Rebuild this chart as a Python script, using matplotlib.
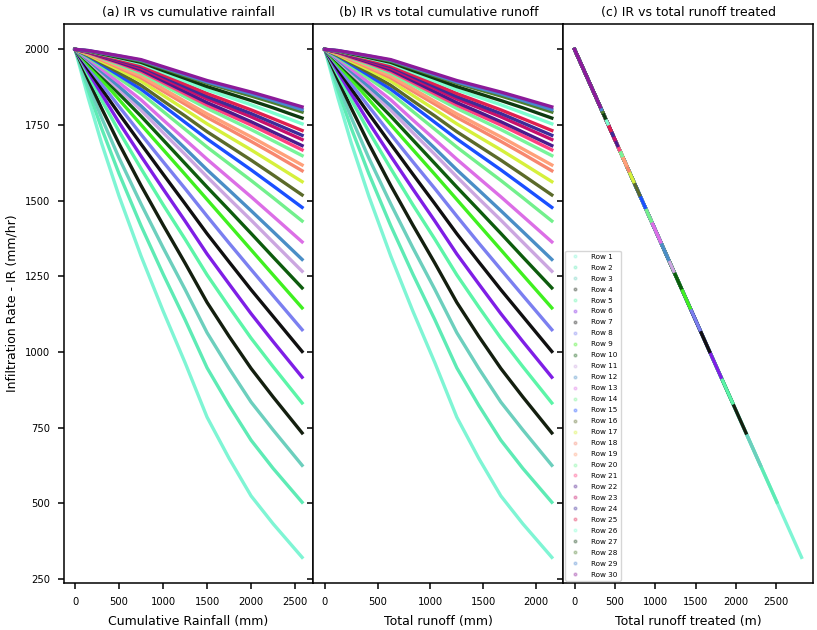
import matplotlib
matplotlib.use("Agg")
import matplotlib.pyplot as plt
from matplotlib.lines import Line2D

# cumulative rainfall (mm) and total runoff (mm) at the sampled points
rain_mm = [0, 150, 300, 500, 750, 1000, 1250, 1500, 1750, 2000, 2250, 2580]
runoff_mm = [0, 125, 250, 417, 625, 833, 1042, 1250, 1458, 1667, 1875, 2150]

# infiltration rate (mm/hr) of each row at those points
ir_rows = [
    [2000, 1839, 1691, 1515, 1317, 1136, 965, 785, 649, 525, 433, 322],
    [2000, 1865, 1740, 1589, 1417, 1258, 1107, 948, 824, 709, 616, 504],
    [2000, 1883, 1775, 1641, 1489, 1345, 1207, 1064, 946, 835, 743, 626],
    [2000, 1900, 1806, 1688, 1550, 1420, 1294, 1164, 1052, 946, 852, 733],
    [2000, 1915, 1833, 1729, 1606, 1487, 1373, 1255, 1149, 1046, 952, 832],
    [2000, 1925, 1853, 1758, 1647, 1539, 1433, 1324, 1225, 1127, 1035, 917],
    [2000, 1934, 1870, 1787, 1687, 1588, 1490, 1391, 1298, 1206, 1118, 1002],
    [2000, 1943, 1886, 1811, 1719, 1629, 1540, 1449, 1360, 1273, 1187, 1074],
    [2000, 1950, 1901, 1834, 1751, 1669, 1587, 1504, 1421, 1338, 1255, 1146],
    [2000, 1957, 1913, 1853, 1779, 1701, 1623, 1545, 1469, 1392, 1314, 1212],
    [2000, 1962, 1921, 1867, 1799, 1725, 1653, 1579, 1507, 1436, 1363, 1267],
    [2000, 1965, 1927, 1877, 1813, 1743, 1673, 1602, 1535, 1467, 1398, 1306],
    [2000, 1969, 1935, 1890, 1833, 1767, 1702, 1637, 1575, 1513, 1449, 1364],
    [2000, 1973, 1944, 1904, 1854, 1795, 1736, 1677, 1622, 1567, 1510, 1433],
    [2000, 1977, 1950, 1914, 1868, 1814, 1759, 1704, 1653, 1602, 1549, 1478],
    [2000, 1979, 1955, 1923, 1881, 1830, 1780, 1728, 1681, 1634, 1585, 1519],
    [2000, 1982, 1960, 1932, 1895, 1848, 1801, 1754, 1711, 1668, 1623, 1563],
    [2000, 1984, 1965, 1939, 1906, 1862, 1819, 1775, 1736, 1696, 1655, 1599],
    [2000, 1986, 1968, 1943, 1912, 1870, 1828, 1787, 1749, 1711, 1671, 1618],
    [2000, 1988, 1971, 1949, 1921, 1882, 1843, 1805, 1770, 1735, 1698, 1649],
    [2000, 1989, 1973, 1954, 1927, 1890, 1853, 1816, 1783, 1750, 1715, 1668],
    [2000, 1990, 1976, 1957, 1932, 1896, 1860, 1824, 1793, 1761, 1727, 1682],
    [2000, 1991, 1978, 1961, 1938, 1904, 1870, 1836, 1807, 1777, 1745, 1702],
    [2000, 1992, 1980, 1964, 1943, 1910, 1877, 1844, 1816, 1788, 1757, 1716],
    [2000, 1993, 1982, 1967, 1947, 1916, 1885, 1854, 1827, 1800, 1771, 1732],
    [2000, 1994, 1984, 1971, 1953, 1924, 1895, 1866, 1842, 1817, 1790, 1754],
    [2000, 1995, 1985, 1973, 1957, 1930, 1904, 1877, 1854, 1831, 1807, 1773],
    [2000, 1995, 1987, 1976, 1961, 1937, 1912, 1888, 1867, 1846, 1824, 1793],
    [2000, 1996, 1988, 1978, 1964, 1940, 1916, 1892, 1872, 1853, 1831, 1801],
    [2000, 1996, 1989, 1979, 1966, 1943, 1920, 1897, 1878, 1859, 1838, 1810],
]

# total runoff treated (m) by each row at the end of the record
treated_end = [2815, 2510, 2305, 2126, 1960, 1817, 1674, 1554, 1433, 1322,
               1230, 1164, 1067, 951, 876, 807, 733, 673, 641, 589,
               557, 534, 500, 477, 450, 413, 381, 347, 334, 319]

row_labels = ["Row %d" % (i + 1) for i in range(30)]
row_colors = ['#7ff5d4', '#5eebb5', '#6ccfbd', '#141f0f', '#5cf5a8',
              '#7f1ee6', '#101010', '#7b7ff0', '#40f020', '#0d5c0d',
              '#cba6e0', '#4a8ec6', '#dc6ee6', '#72f08c', '#1a4fff',
              '#5b6a2a', '#d6f03c', '#f7876f', '#ffa07a', '#77f59a',
              '#ff4080', '#4b1a8c', '#c8106a', '#3d2b99', '#e01f4f',
              '#7dffd0', '#0f3a10', '#4f7f2f', '#4a86d0', '#8c1a99']

fig, axes = plt.subplots(1, 3, sharey=True, figsize=(8.17, 6.3), dpi=100)
fig.subplots_adjust(left=0.078, right=0.995, top=0.962, bottom=0.075, wspace=0)
ax1, ax2, ax3 = axes

for i in range(30):
    ax1.plot(rain_mm, ir_rows[i], color=row_colors[i], lw=2.4)
    ax2.plot(runoff_mm, ir_rows[i], color=row_colors[i], lw=2.4)
    ax3.plot([0, treated_end[i]], [ir_rows[i][0], ir_rows[i][-1]],
             color=row_colors[i], lw=2.4)

ax1.set_title("(a) IR vs cumulative rainfall", fontsize=9)
ax2.set_title("(b) IR vs total cumulative runoff", fontsize=9)
ax3.set_title("(c) IR vs total runoff treated", fontsize=9)
ax1.set_xlabel("Cumulative Rainfall (mm)", fontsize=9, labelpad=6)
ax2.set_xlabel("Total runoff (mm)", fontsize=9, labelpad=6)
ax3.set_xlabel("Total runoff treated (m)", fontsize=9, labelpad=6)
ax1.set_ylabel("Infiltration Rate - IR (mm/hr)", fontsize=9)

ax1.set_yticks([250, 500, 750, 1000, 1250, 1500, 1750, 2000])
ax1.set_xticks([0, 500, 1000, 1500, 2000, 2500])
ax2.set_xticks([0, 500, 1000, 1500, 2000])
ax3.set_xticks([0, 500, 1000, 1500, 2000, 2500])

for ax in axes:
    ax.tick_params(direction='out', length=4, width=1.1, pad=6, labelsize=7.2)
    for s in ax.spines.values():
        s.set_linewidth(1.1)

handles = [Line2D([], [], marker='o', ms=2, ls='none', color=c, alpha=0.3)
           for c in row_colors]
ax3.legend(handles, row_labels, loc='lower left', fontsize=5.2,
           labelspacing=0.68, borderaxespad=0.3, handletextpad=1.2,
           edgecolor='#cccccc')

plt.savefig("out.png")
